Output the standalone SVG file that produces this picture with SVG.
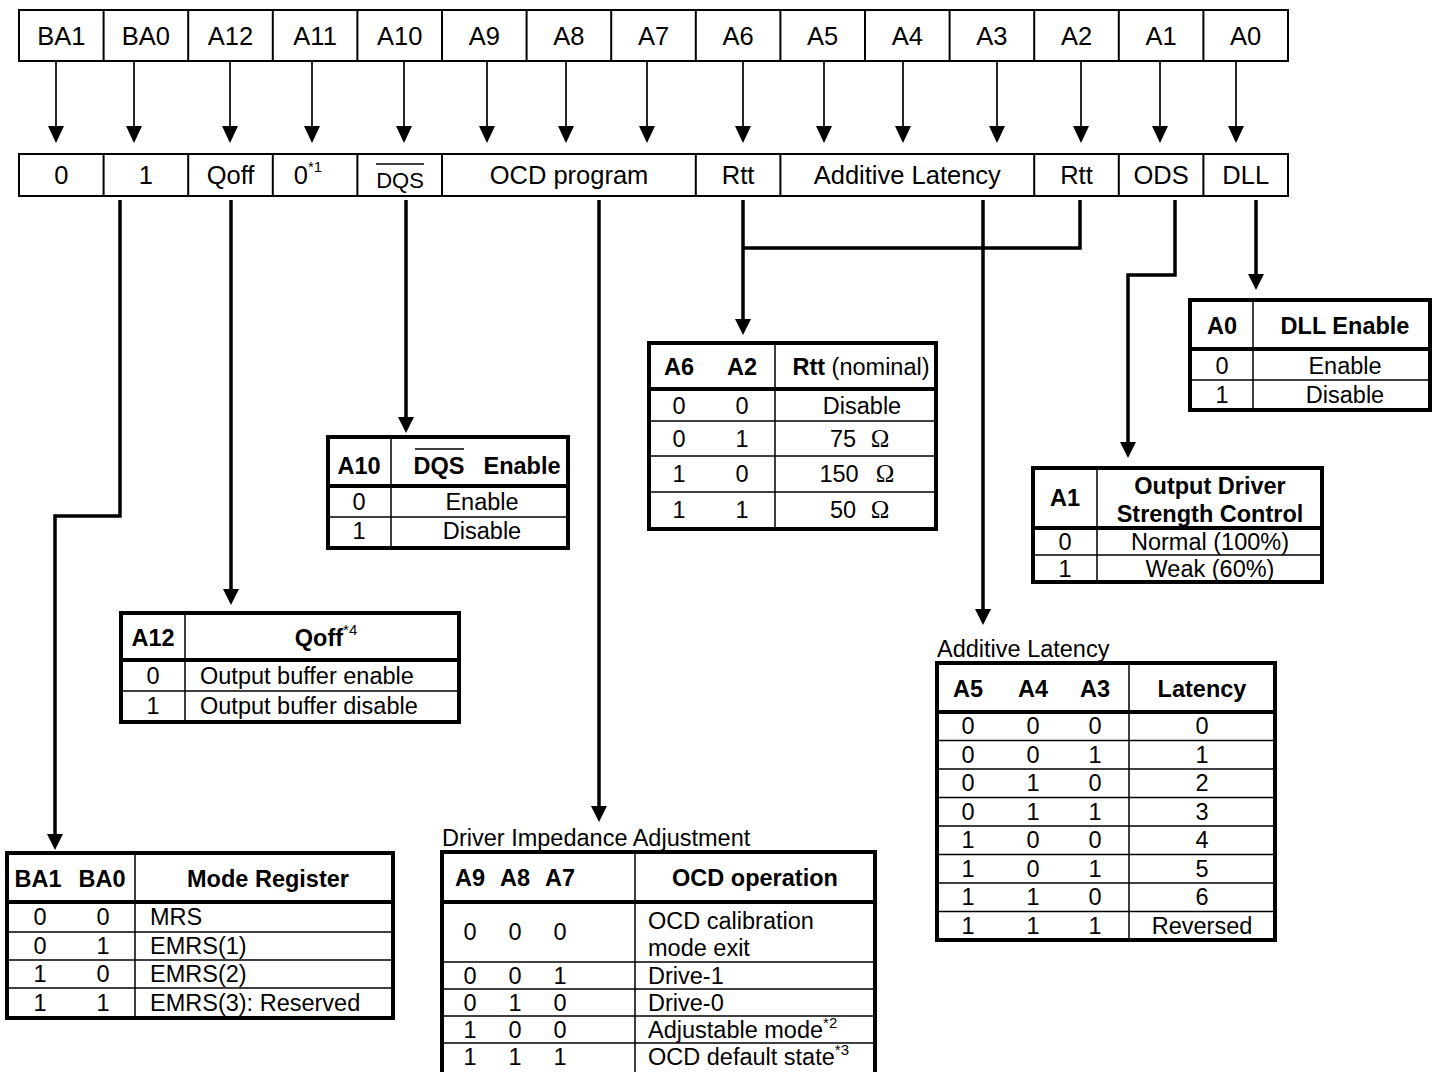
<svg xmlns="http://www.w3.org/2000/svg" width="1437" height="1072" viewBox="0 0 1437 1072">
<style>
text{font-family:"Liberation Sans",Arial,sans-serif;fill:#000}
.r{font-size:25.5px;text-anchor:middle}
.t{font-size:23.5px;text-anchor:middle}
.tl{font-size:23.5px;text-anchor:start}
.b{font-weight:bold}
.cellrow{fill:#fff;stroke:#000;stroke-width:2}
.div{stroke:#000;stroke-width:2}
.ob{fill:#fff;stroke:#000;stroke-width:4}
.hs{stroke:#000;stroke-width:4}
.in{stroke:#000;stroke-width:1.5}
.thin{fill:none;stroke:#000;stroke-width:1.7}
.thick{fill:none;stroke:#000;stroke-width:3.5;stroke-linejoin:miter}
.sup{font-size:15px;font-weight:normal}
.om{font-family:"Liberation Serif","Times New Roman",serif;font-size:25px}
</style>
<defs>
<marker id="at" markerUnits="userSpaceOnUse" viewBox="0 -8 17 16" markerWidth="17" markerHeight="16" refX="7" refY="0" orient="auto"><path d="M0,-8 L17,0 L0,8 z" fill="#000"/></marker>
<marker id="ak" markerUnits="userSpaceOnUse" viewBox="0 -8 16 16" markerWidth="16" markerHeight="16" refX="6" refY="0" orient="auto"><path d="M0,-8 L16,0 L0,8 z" fill="#000"/></marker>
</defs>

<g id="address-row">
<rect class="cellrow" x="19" y="10" width="1269" height="51"/>
<path class="div" d="M103.6,10V61M188.2,10V61M272.8,10V61M357.4,10V61M442,10V61M526.6,10V61M611.2,10V61M695.8,10V61M780.4,10V61M865,10V61M949.6,10V61M1034.2,10V61M1118.8,10V61M1203.4,10V61"/>
<text class="r" x="61.3" y="45">BA1</text>
<text class="r" x="145.9" y="45">BA0</text>
<text class="r" x="230.5" y="45">A12</text>
<text class="r" x="315.1" y="45">A11</text>
<text class="r" x="399.7" y="45">A10</text>
<text class="r" x="484.3" y="45">A9</text>
<text class="r" x="568.9" y="45">A8</text>
<text class="r" x="653.5" y="45">A7</text>
<text class="r" x="738.1" y="45">A6</text>
<text class="r" x="822.7" y="45">A5</text>
<text class="r" x="907.3" y="45">A4</text>
<text class="r" x="991.9" y="45">A3</text>
<text class="r" x="1076.5" y="45">A2</text>
<text class="r" x="1161.1" y="45">A1</text>
<text class="r" x="1245.7" y="45">A0</text>
</g>

<g id="field-row">
<rect class="cellrow" x="19" y="154" width="1269" height="42"/>
<path class="div" d="M103.6,154V196M188.2,154V196M272.8,154V196M357.4,154V196M442,154V196M695.8,154V196M780.4,154V196M1034.2,154V196M1118.8,154V196M1203.4,154V196"/>
<text class="r" x="61.3" y="184">0</text>
<text class="r" x="145.9" y="184">1</text>
<text class="r" x="230.5" y="184">Qoff</text>
<text class="r" x="308" y="184">0<tspan class="sup" dy="-12">*1</tspan></text>
<text class="r" x="400" y="188" style="font-size:22px">DQS</text>
<path class="in" d="M376,164H424"/>
<text class="r" x="569" y="184">OCD program</text>
<text class="r" x="738.1" y="184">Rtt</text>
<text class="r" x="907.3" y="184">Additive Latency</text>
<text class="r" x="1076.5" y="184">Rtt</text>
<text class="r" x="1161.1" y="184">ODS</text>
<text class="r" x="1245.7" y="184">DLL</text>
</g>

<g id="connectors">
<path class="thin" marker-end="url(#at)" d="M56,61V133"/>
<path class="thin" marker-end="url(#at)" d="M134,61V133"/>
<path class="thin" marker-end="url(#at)" d="M230,61V133"/>
<path class="thin" marker-end="url(#at)" d="M312,61V133"/>
<path class="thin" marker-end="url(#at)" d="M404,61V133"/>
<path class="thin" marker-end="url(#at)" d="M487,61V133"/>
<path class="thin" marker-end="url(#at)" d="M566,61V133"/>
<path class="thin" marker-end="url(#at)" d="M647,61V133"/>
<path class="thin" marker-end="url(#at)" d="M743,61V133"/>
<path class="thin" marker-end="url(#at)" d="M824,61V133"/>
<path class="thin" marker-end="url(#at)" d="M903,61V133"/>
<path class="thin" marker-end="url(#at)" d="M997,61V133"/>
<path class="thin" marker-end="url(#at)" d="M1081,61V133"/>
<path class="thin" marker-end="url(#at)" d="M1160,61V133"/>
<path class="thin" marker-end="url(#at)" d="M1236,61V133"/>

<path class="thick" marker-end="url(#ak)" d="M120,200V516H55V840"/>
<path class="thick" marker-end="url(#ak)" d="M231,200V595"/>
<path class="thick" marker-end="url(#ak)" d="M406,200V423"/>
<path class="thick" marker-end="url(#ak)" d="M599,200V812"/>
<path class="thick" marker-end="url(#ak)" d="M743,200V325"/>
<path class="thick" d="M1080,200V248H743"/>
<path class="thick" marker-end="url(#ak)" d="M983,200V615"/>
<path class="thick" marker-end="url(#ak)" d="M1175,200V275H1128V448"/>
<path class="thick" marker-end="url(#ak)" d="M1256,200V280"/>
</g>

<g id="table-dll">
<rect class="ob" x="1190" y="300" width="240" height="110"/>
<path class="hs" d="M1190,349H1430"/>
<path class="in" d="M1190,380H1430M1253,300V410"/>
<text class="t b" x="1222" y="334">A0</text>
<text class="t b" x="1345" y="334">DLL Enable</text>
<text class="t" x="1222" y="374">0</text>
<text class="t" x="1345" y="374">Enable</text>
<text class="t" x="1222" y="403">1</text>
<text class="t" x="1345" y="403">Disable</text>
</g>

<g id="table-rtt">
<rect class="ob" x="649" y="343" width="287" height="186"/>
<path class="hs" d="M649,389H936"/>
<path class="in" d="M649,421H936M649,456H936M649,492H936M775,343V529"/>
<text class="t b" x="679" y="375">A6</text>
<text class="t b" x="742" y="375">A2</text>
<text class="t" x="861" y="375"><tspan class="b">Rtt</tspan> (nominal)</text>
<text class="t" x="679" y="414">0</text><text class="t" x="742" y="414">0</text><text class="t" x="862" y="414">Disable</text>
<text class="t" x="679" y="447">0</text><text class="t" x="742" y="447">1</text><text class="t" x="843" y="447">75</text><text class="t om" x="880" y="447">Ω</text>
<text class="t" x="679" y="482">1</text><text class="t" x="742" y="482">0</text><text class="t" x="839" y="482">150</text><text class="t om" x="885" y="482">Ω</text>
<text class="t" x="679" y="518">1</text><text class="t" x="742" y="518">1</text><text class="t" x="843" y="518">50</text><text class="t om" x="880" y="518">Ω</text>
</g>

<g id="table-dqs">
<rect class="ob" x="328" y="437" width="240" height="111"/>
<path class="hs" d="M328,486H568"/>
<path class="in" d="M328,517H568M391,437V548"/>
<text class="t b" x="359" y="474">A10</text>
<text class="t b" x="439" y="474">DQS</text>
<text class="t b" x="522" y="474">Enable</text>
<path class="in" d="M415,449H464"/>
<text class="t" x="359" y="510">0</text>
<text class="t" x="482" y="510">Enable</text>
<text class="t" x="359" y="539">1</text>
<text class="t" x="482" y="539">Disable</text>
</g>

<g id="table-ods">
<rect class="ob" x="1033" y="468" width="289" height="114"/>
<path class="hs" d="M1033,528H1322"/>
<path class="in" d="M1033,555H1322M1097,468V582"/>
<text class="t b" x="1065" y="506">A1</text>
<text class="t b" x="1210" y="494">Output Driver</text>
<text class="t b" x="1210" y="522">Strength Control</text>
<text class="t" x="1065" y="550">0</text>
<text class="t" x="1210" y="550">Normal (100%)</text>
<text class="t" x="1065" y="577">1</text>
<text class="t" x="1210" y="577">Weak (60%)</text>
</g>

<g id="table-qoff">
<rect class="ob" x="121" y="613" width="338" height="109"/>
<path class="hs" d="M121,660H459"/>
<path class="in" d="M121,691H459M185,613V722"/>
<text class="t b" x="153" y="646">A12</text>
<text class="t b" x="326" y="646">Qoff<tspan class="sup" dy="-11">*4</tspan></text>
<text class="t" x="153" y="684">0</text>
<text class="tl" x="200" y="684">Output buffer enable</text>
<text class="t" x="153" y="714">1</text>
<text class="tl" x="200" y="714">Output buffer disable</text>
</g>

<g id="table-latency">
<text class="tl" x="937" y="657">Additive Latency</text>
<rect class="ob" x="937" y="663" width="338" height="277"/>
<path class="hs" d="M937,712H1275"/>
<path class="in" d="M937,740.5H1275M937,769H1275M937,797.5H1275M937,826H1275M937,854.5H1275M937,883H1275M937,911.5H1275M1129,663V940"/>
<text class="t b" x="968" y="697">A5</text>
<text class="t b" x="1033" y="697">A4</text>
<text class="t b" x="1095" y="697">A3</text>
<text class="t b" x="1202" y="697">Latency</text>
<text class="t" x="968" y="734">0</text><text class="t" x="1033" y="734">0</text><text class="t" x="1095" y="734">0</text><text class="t" x="1202" y="734">0</text>
<text class="t" x="968" y="763">0</text><text class="t" x="1033" y="763">0</text><text class="t" x="1095" y="763">1</text><text class="t" x="1202" y="763">1</text>
<text class="t" x="968" y="791">0</text><text class="t" x="1033" y="791">1</text><text class="t" x="1095" y="791">0</text><text class="t" x="1202" y="791">2</text>
<text class="t" x="968" y="820">0</text><text class="t" x="1033" y="820">1</text><text class="t" x="1095" y="820">1</text><text class="t" x="1202" y="820">3</text>
<text class="t" x="968" y="848">1</text><text class="t" x="1033" y="848">0</text><text class="t" x="1095" y="848">0</text><text class="t" x="1202" y="848">4</text>
<text class="t" x="968" y="877">1</text><text class="t" x="1033" y="877">0</text><text class="t" x="1095" y="877">1</text><text class="t" x="1202" y="877">5</text>
<text class="t" x="968" y="905">1</text><text class="t" x="1033" y="905">1</text><text class="t" x="1095" y="905">0</text><text class="t" x="1202" y="905">6</text>
<text class="t" x="968" y="934">1</text><text class="t" x="1033" y="934">1</text><text class="t" x="1095" y="934">1</text><text class="t" x="1202" y="934">Reversed</text>
</g>

<g id="table-mode">
<rect class="ob" x="7" y="853" width="386" height="165"/>
<path class="hs" d="M7,902H393"/>
<path class="in" d="M7,932H393M7,960H393M7,988H393M135,853V1018"/>
<text class="t b" x="38" y="887">BA1</text>
<text class="t b" x="102" y="887">BA0</text>
<text class="t b" x="268" y="887">Mode Register</text>
<text class="t" x="40" y="925">0</text><text class="t" x="103" y="925">0</text><text class="tl" x="150" y="925">MRS</text>
<text class="t" x="40" y="954">0</text><text class="t" x="103" y="954">1</text><text class="tl" x="150" y="954">EMRS(1)</text>
<text class="t" x="40" y="982">1</text><text class="t" x="103" y="982">0</text><text class="tl" x="150" y="982">EMRS(2)</text>
<text class="t" x="40" y="1011">1</text><text class="t" x="103" y="1011">1</text><text class="tl" x="150" y="1011">EMRS(3): Reserved</text>
</g>

<g id="table-ocd">
<text class="tl" x="442" y="846">Driver Impedance Adjustment</text>
<rect class="ob" x="442" y="852" width="433" height="224"/>
<path class="hs" d="M442,902H875"/>
<path class="in" d="M442,962H875M442,989H875M442,1016H875M442,1043H875M635,852V1076"/>
<text class="t b" x="470" y="886">A9</text>
<text class="t b" x="515" y="886">A8</text>
<text class="t b" x="560" y="886">A7</text>
<text class="t b" x="755" y="886">OCD operation</text>
<text class="t" x="470" y="940">0</text><text class="t" x="515" y="940">0</text><text class="t" x="560" y="940">0</text>
<text class="tl" x="648" y="929">OCD calibration</text>
<text class="tl" x="648" y="956">mode exit</text>
<text class="t" x="470" y="984">0</text><text class="t" x="515" y="984">0</text><text class="t" x="560" y="984">1</text><text class="tl" x="648" y="984">Drive-1</text>
<text class="t" x="470" y="1011">0</text><text class="t" x="515" y="1011">1</text><text class="t" x="560" y="1011">0</text><text class="tl" x="648" y="1011">Drive-0</text>
<text class="t" x="470" y="1038">1</text><text class="t" x="515" y="1038">0</text><text class="t" x="560" y="1038">0</text><text class="tl" x="648" y="1038">Adjustable mode<tspan class="sup" dy="-10">*2</tspan></text>
<text class="t" x="470" y="1065">1</text><text class="t" x="515" y="1065">1</text><text class="t" x="560" y="1065">1</text><text class="tl" x="648" y="1065">OCD default state<tspan class="sup" dy="-10">*3</tspan></text>
</g>
</svg>
